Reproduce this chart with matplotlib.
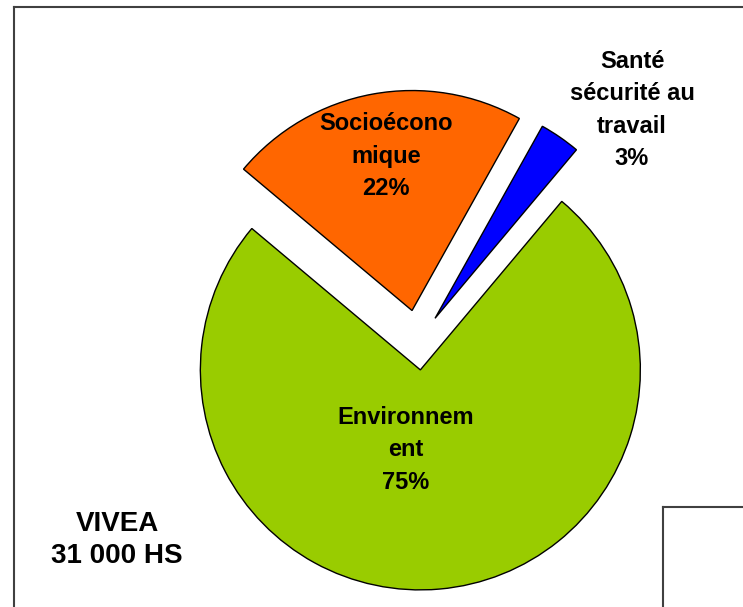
import matplotlib
matplotlib.use("Agg")
import matplotlib.pyplot as plt

categories = ["Environnement", "Socioéconomique", "Santé sécurité au travail"]
label_lines = ["Environnem\nent", "Socioécono\nmique", "Santé\nsécurité au\ntravail"]
values = [75, 22, 3]
colors = ["#99CC00", "#FF6600", "#0000FF"]
title_lines = ["VIVEA", "31 000 HS"]

plt.rcParams['font.family'] = ['Liberation Sans', 'DejaVu Sans']

W, H = 743, 607
fig = plt.figure(figsize=(W / 100, H / 100), dpi=100)
ax = fig.add_axes([0, 0, 1, 1])

cx, cy = 418, H - 343
R = 220
ax.pie(values, colors=colors, startangle=50, counterclock=False,
       explode=[27, 33, 30], radius=R, center=(cx, cy),
       wedgeprops=dict(edgecolor='black', linewidth=1.0), frame=True)
ax.set_xlim(0, W)
ax.set_ylim(0, H)
ax.set_aspect('auto')
ax.axis('off')

total = sum(values)
label_pos = [(406, H - 450), (386, H - 156), (632, H - 110)]
for txt, v, (x, y) in zip(label_lines, values, label_pos):
    ax.text(x, y, f"{txt}\n{round(100 * v / total)}%", ha='center', va='center',
            fontsize=17, fontweight='bold', linespacing=1.52, color='black')

ax.text(117, H - 540, "\n".join(title_lines), ha='center', va='center',
        fontsize=20, fontweight='bold', linespacing=1.32, color='black')

frame_col = '#404040'
ax.plot([14, 14], [0, H - 7], color=frame_col, lw=1.5, solid_capstyle='projecting')
ax.plot([14, W], [H - 7, H - 7], color=frame_col, lw=1.5, solid_capstyle='projecting')
ax.plot([663, 663], [0, H - 507], color=frame_col, lw=1.5, solid_capstyle='projecting')
ax.plot([663, W], [H - 507, H - 507], color=frame_col, lw=1.5, solid_capstyle='projecting')

fig.savefig("out.png", dpi=100, facecolor='white')
